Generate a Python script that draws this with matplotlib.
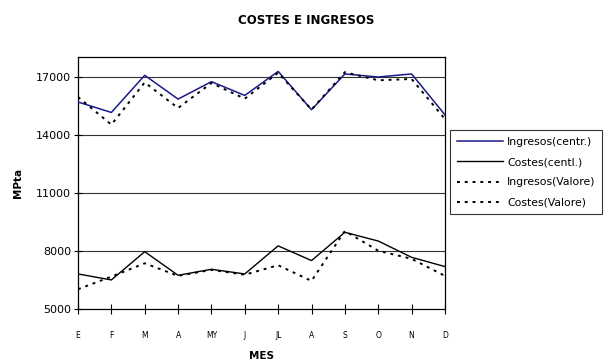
import matplotlib
matplotlib.use("Agg")
import matplotlib.pyplot as plt

# Monthly data
months = ["E", "F", "M", "A", "MY", "J", "JL", "A", "S", "O", "N", "D"]
ingresos_centr = [15690, 15150, 17070, 15840, 16740, 16030, 17270, 15290, 17140, 16980, 17140, 15030]
costes_centl = [6810, 6500, 7960, 6740, 7050, 6810, 8260, 7500, 8960, 8510, 7670, 7190]
ingresos_valore = [15950, 14520, 16700, 15380, 16670, 15860, 17200, 15300, 17230, 16810, 16880, 14810]
costes_valore = [6020, 6670, 7360, 6710, 7020, 6770, 7260, 6450, 9030, 8010, 7590, 6710]
y_ticks = [5000, 8000, 11000, 14000, 17000]

fig = plt.figure(figsize=(6.07, 3.6), dpi=100)
ax = fig.add_axes([0.1285, 0.1417, 0.6045, 0.6992])

x = range(len(months))
for yv in y_ticks[1:]:
    ax.axhline(yv, color="#333333", linewidth=0.8, zorder=1)

ax.plot(x, ingresos_centr, color="#1a1a8c", linewidth=1.1, label="Ingresos(centr.)", zorder=3)
ax.plot(x, costes_centl, color="black", linewidth=1.0, label="Costes(centl.)", zorder=3)
ax.plot(x, ingresos_valore, color="black", linewidth=1.4, linestyle=(0, (1.5, 2.5)),
        label="Ingresos(Valore)", zorder=4)
ax.plot(x, costes_valore, color="black", linewidth=1.4, linestyle=(0, (1.5, 2.5)),
        label="Costes(Valore)", zorder=4)

ax.set_xlim(0, len(months) - 1)
ax.set_ylim(5000, 18000)
ax.set_xticks(list(x))
ax.set_xticklabels(months, fontsize=5.5)
ax.set_yticks(y_ticks)
ax.set_yticklabels([str(v) for v in y_ticks], fontsize=8)
ax.tick_params(axis="x", direction="inout", length=7, width=0.8, pad=12)
ax.tick_params(axis="y", direction="inout", length=6, width=0.8, pad=2)
for s in ax.spines.values():
    s.set_linewidth(0.9)

ax.set_xlabel("MES", fontsize=7.5, fontweight="bold", labelpad=8)
ax.set_ylabel("MPta", fontsize=7.5, fontweight="bold", labelpad=9)
fig.text(0.505, 0.943, "COSTES E INGRESOS", ha="center", va="center",
         fontsize=8.5, fontweight="bold")

leg = fig.legend(loc="upper left", bbox_to_anchor=(0.742, 0.638), fontsize=7.8,
                 frameon=True, fancybox=False, edgecolor="black", borderpad=0.6,
                 handlelength=4.3, labelspacing=0.95, handletextpad=0.35,
                 borderaxespad=0)
leg.get_frame().set_linewidth(0.8)

fig.savefig("out.png", dpi=100)
